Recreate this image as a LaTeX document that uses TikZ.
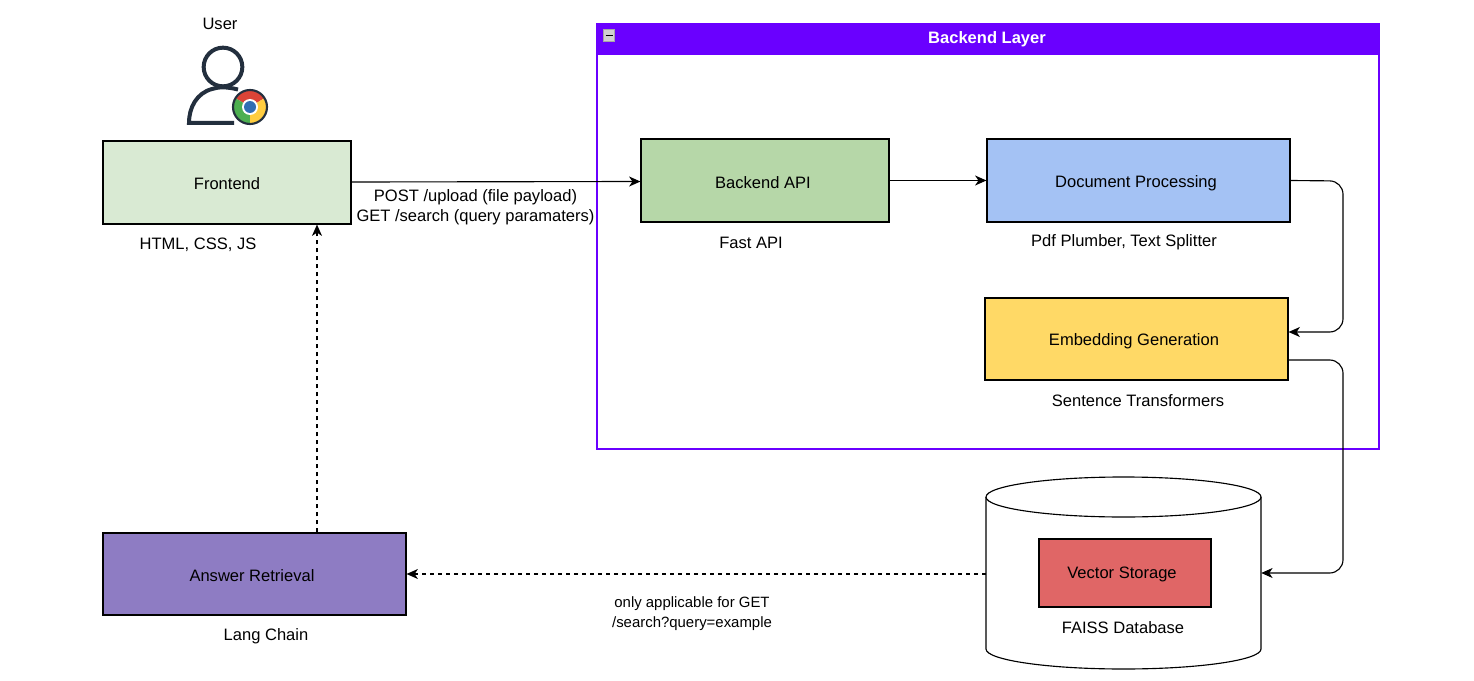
\documentclass[tikz,border=0pt]{standalone}
\usepackage{fontspec}
\setmainfont{Liberation Sans}
\usetikzlibrary{arrows.meta,calc}
\definecolor{grpc}{HTML}{6A00FF}
\definecolor{feC}{HTML}{D9EAD3}
\definecolor{apiC}{HTML}{B6D7A8}
\definecolor{docC}{HTML}{A4C2F4}
\definecolor{embC}{HTML}{FFD966}
\definecolor{ansC}{HTML}{8E7CC3}
\definecolor{vecC}{HTML}{E06666}
\definecolor{usrC}{HTML}{232F3E}
\tikzset{
  x=0.75pt,y=-0.75pt,
  lbl/.style={font=\fontsize{12.4}{15}\selectfont,text=black,inner sep=0pt,align=center,yshift=-0.5pt},
  boxn/.style={draw=black,line width=0.85pt,inner sep=0pt},
  conn/.style={draw=black,line width=0.85pt,-{Stealth[length=8.5pt,width=7.5pt,inset=2.5pt]},rounded corners=10pt},
  dconn/.style={conn,dash pattern=on 3pt off 3pt},
}
\newcommand{\mkbox}[6]{\node[boxn,fill=#2,minimum width={(#5-#3)*0.75pt},minimum height={(#6-#4)*0.75pt}] (#1) at ({(#3+#5)/2},{(#4+#6)/2}) {};}
\begin{document}
\begin{tikzpicture}
\useasboundingbox (0,0) rectangle (1474,681);
\fill[white] (0,0) rectangle (1474,681);
% Backend group
\node[draw=grpc,line width=1pt,fill=white,inner sep=0pt,minimum width=586.5pt,minimum height=318.75pt] (grp) at (988,236.5) {};
\node[draw=grpc,line width=1pt,fill=grpc,inner sep=0pt,minimum width=586.5pt,minimum height=22.5pt] (hdr) at (988,39) {};
\node[lbl,text=white,font=\fontsize{12.4}{15}\selectfont\bfseries] (hdrt) at (987,39) {Backend Layer};
\node[draw=black!35,fill=black!18,inner sep=0pt,minimum size=8.5pt,line width=0.5pt] (minus) at (609,35.5) {};
\draw[black,line width=0.9pt] (605.5,35.5) -- (612.5,35.5);
% User icon
\node[lbl] (usr) at (220,23) {User};
\node[draw=usrC,line width=3pt,circle,inner sep=0pt,minimum size=29pt] (head) at (223,67) {};
\draw[usrC,line width=3pt] (238,89.5) .. controls (226,86.5) and (218,87) .. (212,89) .. controls (197,93) and (189,107) .. (189,123) -- (234,123);
% Chrome icon
\coordinate (cc) at (250,107);
\fill[white] (cc) circle (18.5);
\begin{scope}
\clip (cc) circle (16.5);
\fill[color={rgb,255:red,219;green,68;blue,55}] (250,107) -- (232,96) -- (232,80) -- (268,80) -- (268,96) -- cycle;
\fill[color={rgb,255:red,76;green,175;blue,80}] (250,107) -- (232,96) -- (230,130) -- (250,130) -- cycle;
\fill[color={rgb,255:red,255;green,205;blue,64}] (250,107) -- (268,96) -- (270,130) -- (250,130) -- cycle;
\end{scope}
\draw[usrC,line width=1.6pt] (cc) circle (17);
\fill[white] (cc) circle (8);
\fill[color={rgb,255:red,50;green,110;blue,180}] (cc) circle (6);
% Boxes
\mkbox{fe}{feC}{103}{141}{351}{224}
\mkbox{api}{apiC}{641}{139}{889}{222}
\mkbox{doc}{docC}{987}{139}{1290}{222}
\mkbox{emb}{embC}{985}{298}{1288}{380}
\mkbox{ans}{ansC}{103}{533}{406}{615}
% Cylinder
\node[inner sep=0pt,minimum width=206.25pt,minimum height=144pt] (db) at (1123.5,573) {};
\draw[black,line width=0.85pt,fill=white] (986,497) -- (986,649) arc[start angle=180,end angle=0,x radius=137.5,y radius=20] -- (1261,497);
\draw[black,line width=0.85pt,fill=white] (1123.5,497) ellipse[x radius=137.5,y radius=20];
\mkbox{vec}{vecC}{1039}{539}{1211}{607}
% Box labels
\node[lbl] (feL) at (227,183) {Frontend};
\node[lbl] (apiL) at (763,182) {Backend API};
\node[lbl] (docL) at (1136,183) {Document Processing};
\node[lbl] (embL) at (1134,341) {Embedding Generation};
\node[lbl] (ansL) at (252,575) {Answer Retrieval};
\node[lbl] (vecL) at (1122,574) {Vector Storage};
\node[lbl] (feS) at (198,244) {HTML, CSS, JS};
\node[lbl] (apiS) at (751,242) {Fast API};
\node[lbl] (docS) at (1124,242) {Pdf Plumber, Text Splitter};
\node[lbl] (embS) at (1138,400) {Sentence Transformers};
\node[lbl] (ansS) at (266,636) {Lang Chain};
\node[lbl] (dbS) at (1123,627) {FAISS Database};
\node[lbl] (flow) at (475.5,207) {POST /upload (file payload)\\GET /search (query paramaters)};
\node[lbl,font=\fontsize{11.2}{14.5}\selectfont] (note) at (692,613) {only applicable for GET\\/search?query=example};
% Connectors
\draw[conn] (fe.east |- 0,182) -- (api.west |- 0,181.5);
\draw[conn] (api.east) -- (doc.west);
\draw[conn] (doc.east) -- (1343,181) -- (1343,332) -- (emb.east |- 0,332);
\draw[conn] (emb.east |- 0,360) -- (1343,360) -- (1343,573) -- (db.east |- 0,573);
\draw[dconn] (db.west |- 0,574) -- (ans.east |- 0,574);
\draw[dconn] (ans.north -| 317,0) -- (fe.south -| 317,0);
\end{tikzpicture}
\end{document}
